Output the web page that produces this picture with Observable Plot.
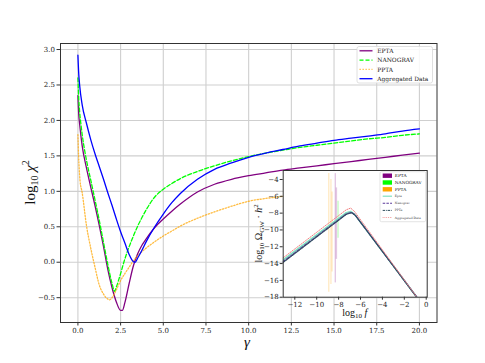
<!DOCTYPE html>
<html>
<head>
<meta charset="utf-8">
<script src="https://cdn.jsdelivr.net/npm/d3@7"></script>
<script src="https://cdn.jsdelivr.net/npm/@observablehq/plot@0.6"></script>
<style>
  html, body { margin: 0; padding: 0; background: white; }
  #wrap { position: relative; width: 485px; height: 363px; overflow: hidden; }
  #wrap svg { position: absolute; }
</style>
</head>
<body>
<div id="wrap"></div>
<script>
// ---------- Main chart data (gamma vs log10 chi^2) ----------
const xTicks = [0, 2.5, 5, 7.5, 10, 12.5, 15, 17.5, 20];
const yTicks = [-0.5, 0, 0.5, 1, 1.5, 2, 2.5, 3];

const eptaGamma = [0, 0.05, 0.1, 0.25, 0.5, 0.75, 1.0, 1.25, 1.5, 1.75, 2.0, 2.25, 2.5, 2.6, 2.75, 3.0, 3.25, 3.5, 3.75, 4.0, 4.5, 5, 5.5, 6, 7, 8, 9, 10, 11, 12, 13, 14, 15, 16, 17, 18, 19, 20];
const eptaChi   = [2.35, 2.08, 1.95, 1.64, 1.33, 1.06, 0.8, 0.52, 0.22, -0.1, -0.36, -0.56, -0.68, -0.68, -0.57, -0.3, -0.05, 0.12, 0.24, 0.33, 0.49, 0.61, 0.72, 0.82, 0.99, 1.1, 1.17, 1.22, 1.26, 1.3, 1.33, 1.36, 1.39, 1.42, 1.45, 1.48, 1.51, 1.54];

const nanoGamma = [0, 0.05, 0.1, 0.16, 0.25, 0.4, 0.5, 0.75, 1.0, 1.25, 1.5, 1.75, 2.0, 2.15, 2.25, 2.5, 2.69, 3.0, 3.25, 3.5, 3.75, 4.0, 4.5, 5, 5.5, 6, 7, 8, 9, 10, 11, 12, 13, 14, 15, 16, 17, 18, 19, 20];
const nanoChi   = [2.6, 2.3, 2.12, 1.98, 1.8, 1.57, 1.44, 1.16, 0.88, 0.59, 0.28, -0.03, -0.3, -0.41, -0.35, -0.16, 0.0, 0.22, 0.37, 0.51, 0.63, 0.74, 0.92, 1.03, 1.11, 1.18, 1.28, 1.36, 1.43, 1.49, 1.54, 1.58, 1.62, 1.65, 1.68, 1.71, 1.74, 1.76, 1.79, 1.81];

const pptaGamma = [0, 0.04, 0.08, 0.12, 0.25, 0.5, 0.75, 1.0, 1.25, 1.5, 1.75, 1.85, 2.0, 2.25, 2.5, 2.75, 3.0, 3.25, 3.5, 3.75, 4.0, 4.5, 5, 5.5, 6, 7, 8, 9, 10, 11, 12, 13, 14, 15, 16, 17, 18, 19, 20];
const pptaChi   = [1.8, 1.5, 1.3, 1.16, 0.98, 0.52, 0.2, -0.07, -0.32, -0.45, -0.52, -0.53, -0.5, -0.39, -0.26, -0.16, -0.07, 0.02, 0.09, 0.15, 0.2, 0.29, 0.37, 0.44, 0.51, 0.62, 0.71, 0.79, 0.86, 0.9, 0.93, 0.98, 1.02, 1.06, 1.1, 1.13, 1.16, 1.19, 1.22];

const aggGamma = [0, 0.05, 0.1, 0.25, 0.5, 0.75, 1.0, 1.25, 1.5, 1.75, 2.0, 2.25, 2.5, 2.75, 3.0, 3.2, 3.35, 3.5, 3.75, 4.0, 4.5, 5, 5.5, 6, 7, 8, 9, 10, 11, 12, 13, 14, 15, 16, 17, 18, 19, 20];
const aggChi   = [2.92, 2.65, 2.5, 2.22, 1.96, 1.73, 1.53, 1.35, 1.17, 0.98, 0.8, 0.61, 0.43, 0.27, 0.11, 0.02, 0.0, 0.06, 0.17, 0.29, 0.5, 0.68, 0.84, 0.97, 1.17, 1.31, 1.4, 1.48, 1.54, 1.59, 1.64, 1.68, 1.72, 1.75, 1.78, 1.81, 1.85, 1.88];

// ---------- Inset data (log10 f vs log10 Omega h^2) ----------
const insetXTicks = [-12, -10, -8, -6, -4, -2, 0];
const insetYTicks = [-18, -16, -14, -12, -10, -8, -6, -4];

const iEptaF = [-13.1, -7.3, -6.9, -6.55, -0.85, 0.1];
const iEptaO = [-13.6, -7.95, -7.8, -8.15, -18.0, -19.7];
const iNanoF = [-13.1, -7.3, -6.85, -6.5, -0.85, 0.1];
const iNanoO = [-13.8, -8.1, -7.9, -8.2, -18.0, -19.7];
const iPptaF = [-13.1, -7.3, -6.8, -6.45, -0.85, 0.1];
const iPptaO = [-13.9, -8.15, -7.95, -8.3, -18.05, -19.7];
const iAggF  = [-13.1, -7.3, -6.9, -6.55, -0.85, 0.1];
const iAggO  = [-13.35, -7.6, -7.4, -7.8, -18.0, -19.7];

// uncertainty spikes (PTA bands)
const bandPptaX = [-8.9, -8.7, -8.6];
const bandPptaLo = [-17.4, -16.5, -15.0];
const bandPptaHi = [-3.3, -4.0, -5.5];
const bandEptaX = [-8.3, -8.2];
const bandEptaLo = [-16.3, -13.5];
const bandEptaHi = [-3.3, -5.0];
const bandNanoX = [-8.05];
const bandNanoLo = [-11.0];
const bandNanoHi = [-6.6];

const legendMain = ["EPTA", "NANOGRAV", "PPTA", "Aggregated Data"];
const legendInsetBands = ["EPTA", "NANOGRAV", "PPTA"];
const legendInsetLines = ["Epta", "Nanograv", "PPTa", "Aggregated Data"];

// ---------- helpers ----------
const zip = (xs, ys, kx, ky) => xs.map((x, i) => ({[kx]: x, [ky]: ys[i]}));
const zip3 = (xs, lo, hi) => xs.map((x, i) => ({x, lo: lo[i], hi: hi[i]}));
const minus = s => s.replace("-", "\u2212");
const fmt1 = d => minus(d.toFixed(1));
const fmt0 = d => minus(String(d));

const C = {
  epta: "#800080", nano: "#00ff00", ppta: "#ffa500", agg: "#0000ff",
  iEpta: "#7fe0c0", iNano: "#5b3a9a", iPpta: "#2f4f5f", iAgg: "#f08080"
};

const FONT = "DejaVu Serif";
const wrap = document.getElementById("wrap");

// ---------- main plot ----------
const mainPlot = Plot.plot({
  width: 485, height: 363,
  marginLeft: 60, marginRight: 48.5, marginTop: 43, marginBottom: 41,
  x: {domain: [-1.02, 21.03]},
  y: {domain: [-0.85, 3.085]},
  style: {fontFamily: FONT, fontSize: "7px", background: "white", color: "#222"},
  marks: [
    Plot.gridX(xTicks, {stroke: "#cfcfcf", strokeOpacity: 1, strokeWidth: 1.1}),
    Plot.gridY(yTicks, {stroke: "#cfcfcf", strokeOpacity: 1, strokeWidth: 1.1}),
    Plot.line(zip(eptaGamma, eptaChi, "g", "v"), {x: "g", y: "v", stroke: C.epta, strokeWidth: 1.3, curve: "monotone-x"}),
    Plot.line(zip(nanoGamma, nanoChi, "g", "v"), {x: "g", y: "v", stroke: C.nano, strokeWidth: 1.3, strokeDasharray: "4,2", curve: "monotone-x"}),
    Plot.line(zip(pptaGamma, pptaChi, "g", "v"), {x: "g", y: "v", stroke: C.ppta, strokeOpacity: 0.75, strokeWidth: 1.3, strokeDasharray: "1.3,1.7", curve: "monotone-x"}),
    Plot.line(zip(aggGamma, aggChi, "g", "v"), {x: "g", y: "v", stroke: C.agg, strokeWidth: 1.3, curve: "monotone-x"}),
    Plot.frame({stroke: "#333", strokeWidth: 1}),
    Plot.axisX(xTicks, {tickSize: 3.5, tickPadding: 2, tickFormat: fmt1, label: null, stroke: "#333"}),
    Plot.axisY(yTicks, {tickSize: 3.5, tickPadding: 2, tickFormat: fmt1, label: null, stroke: "#333"})
  ]
});
mainPlot.style.left = "0px"; mainPlot.style.top = "0px";
wrap.appendChild(mainPlot);

// ---------- inset plot ----------
const IL = 250, IT = 165;
const rulesFor = (xs, lo, hi, color) => Plot.ruleX(zip3(xs, lo, hi), {x: "x", y1: "lo", y2: "hi", stroke: color, strokeOpacity: 0.22, strokeWidth: 1.4});
const insetPlot = Plot.plot({
  width: 185, height: 155,
  marginLeft: 32.7, marginRight: 8.3, marginTop: 5, marginBottom: 23.3,
  x: {domain: [-13.06, 0.09]},
  y: {domain: [-18, -2.93]},
  style: {fontFamily: FONT, fontSize: "7px", background: "none", color: "#222"},
  marks: [
    Plot.frame({fill: "white", stroke: null}),
    rulesFor(bandPptaX, bandPptaLo, bandPptaHi, C.ppta),
    rulesFor(bandEptaX, bandEptaLo, bandEptaHi, C.epta),
    rulesFor(bandNanoX, bandNanoLo, bandNanoHi, C.nano),
    Plot.line(zip(iEptaF, iEptaO, "f", "o"), {x: "f", y: "o", stroke: C.iEpta, strokeWidth: 1.6, clip: true}),
    Plot.line(zip(iNanoF, iNanoO, "f", "o"), {x: "f", y: "o", stroke: C.iNano, strokeWidth: 1.3, strokeDasharray: "3,1.5", clip: true}),
    Plot.line(zip(iPptaF, iPptaO, "f", "o"), {x: "f", y: "o", stroke: C.iPpta, strokeWidth: 1.1, strokeDasharray: "3,1,1,1", clip: true}),
    Plot.line(zip(iAggF, iAggO, "f", "o"), {x: "f", y: "o", stroke: C.iAgg, strokeWidth: 1.0, strokeDasharray: "1,1.3", clip: true}),
    Plot.frame({stroke: "#333", strokeWidth: 1}),
    Plot.axisX(insetXTicks, {tickSize: 3, tickPadding: 1.5, tickFormat: fmt0, label: null, stroke: "#333"}),
    Plot.axisY(insetYTicks, {tickSize: 3, tickPadding: 1.5, tickFormat: fmt0, label: null, stroke: "#333"})
  ]
});
insetPlot.style.left = IL + "px"; insetPlot.style.top = IT + "px";
wrap.appendChild(insetPlot);

// ---------- overlay: axis labels and legends ----------
const ov = d3.select(wrap).append("svg")
  .attr("width", 485).attr("height", 363)
  .style("left", "0px").style("top", "0px")
  .style("font-family", "Liberation Serif");

// y label main
const yl = ov.append("text")
  .attr("transform", "translate(35,182.5) rotate(-90)")
  .attr("text-anchor", "middle").attr("font-size", 15).attr("fill", "#111");
yl.append("tspan").text("log");
yl.append("tspan").attr("font-size", 10).attr("dy", 3).text("10");
yl.append("tspan").attr("dy", -3).text(" ");
yl.append("tspan").attr("font-style", "italic").text("χ");
yl.append("tspan").attr("font-size", 10).attr("dy", -6).text("2");

// x label main
ov.append("text").attr("x", 247).attr("y", 347).attr("text-anchor", "middle")
  .attr("font-size", 15).attr("font-style", "italic").attr("fill", "#111").text("γ");

// inset x label
const ixl = ov.append("text").attr("x", 354.7).attr("y", 316).attr("text-anchor", "middle")
  .attr("font-size", 10).attr("fill", "#111");
ixl.append("tspan").text("log");
ixl.append("tspan").attr("font-size", 7).attr("dy", 2).text("10");
ixl.append("tspan").attr("dy", -2).text(" ");
ixl.append("tspan").attr("font-style", "italic").text("f");

// inset y label
const iyl = ov.append("text").attr("transform", "translate(262,233.3) rotate(-90)")
  .attr("text-anchor", "middle").attr("font-size", 10).attr("fill", "#111");
iyl.append("tspan").text("log");
iyl.append("tspan").attr("font-size", 7).attr("dy", 2).text("10");
iyl.append("tspan").attr("dy", -2).text(" Ω");
iyl.append("tspan").attr("font-size", 7).attr("dy", 2).text("GW");
iyl.append("tspan").attr("dy", -2).text(" · ");
iyl.append("tspan").attr("font-style", "italic").text("h");
iyl.append("tspan").attr("font-size", 7).attr("dy", -4).text("2");

// main legend
const mainStyles = [
  {c: C.epta, d: null, o: 1},
  {c: C.nano, d: "4,2", o: 1},
  {c: C.ppta, d: "1.3,1.7", o: 0.75},
  {c: C.agg, d: null, o: 1}
];
ov.append("rect").attr("x", 357).attr("y", 46.5).attr("width", 75.5).attr("height", 36.5)
  .attr("rx", 2).attr("fill", "white").attr("fill-opacity", 0.85).attr("stroke", "#d8d8d8").attr("stroke-width", 0.8);
legendMain.forEach((name, i) => {
  const y = 50.8 + i * 9.3;
  const s = mainStyles[i];
  ov.append("line").attr("x1", 359.5).attr("x2", 372.5).attr("y1", y).attr("y2", y)
    .attr("stroke", s.c).attr("stroke-width", 1.3).attr("stroke-opacity", s.o)
    .attr("stroke-dasharray", s.d);
  ov.append("text").attr("x", 377.3).attr("y", y + 2.2).attr("font-family", FONT)
    .attr("font-size", 5.9).attr("fill", "#222").text(name);
});

// inset legend
ov.append("rect").attr("x", 380).attr("y", 171.7).attr("width", 45.7).attr("height", 50)
  .attr("rx", 1.5).attr("fill", "white").attr("fill-opacity", 0.85).attr("stroke", "#d8d8d8").attr("stroke-width", 0.7);
const bandColors = [C.epta, C.nano, C.ppta];
legendInsetBands.forEach((name, i) => {
  const y = 175.7 + i * 6.8;
  ov.append("rect").attr("x", 382.7).attr("y", y - 2.2).attr("width", 9.3).attr("height", 4.4)
    .attr("fill", bandColors[i]);
  ov.append("text").attr("x", 394.8).attr("y", y + 1.5).attr("font-family", FONT)
    .attr("font-size", 4.3).attr("fill", "#222").text(name);
});
const lineStyles = [
  {c: C.iEpta, d: null, w: 1.2},
  {c: C.iNano, d: "2.5,1.2", w: 1.1},
  {c: C.iPpta, d: "2.5,0.8,0.8,0.8", w: 1.0},
  {c: C.iAgg, d: "0.8,1", w: 0.9}
];
legendInsetLines.forEach((name, i) => {
  const y = 196.2 + i * 7.1;
  const s = lineStyles[i];
  ov.append("line").attr("x1", 382.7).attr("x2", 392).attr("y1", y).attr("y2", y)
    .attr("stroke", s.c).attr("stroke-width", s.w).attr("stroke-dasharray", s.d);
  ov.append("text").attr("x", 394.8).attr("y", y + 1).attr("font-family", FONT)
    .attr("font-size", 3).attr("fill", "#333").text(name);
});
</script>
</body>
</html>
